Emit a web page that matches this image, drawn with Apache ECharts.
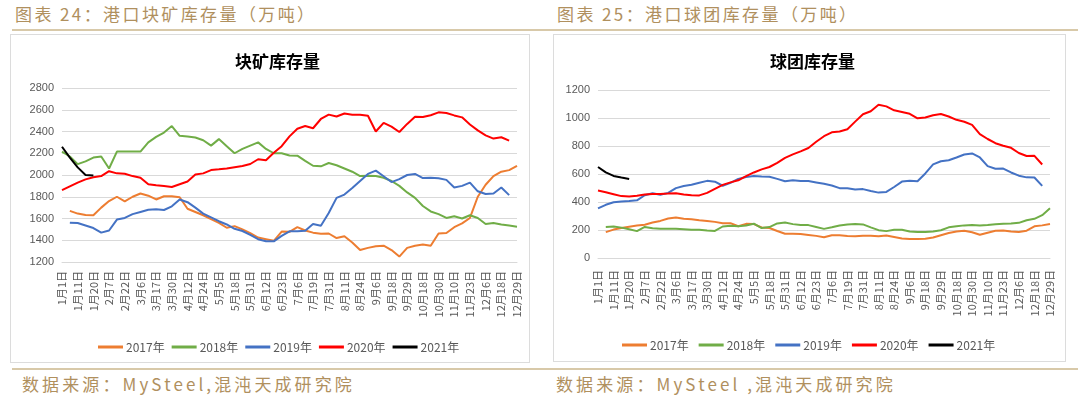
<!DOCTYPE html>
<html><head><meta charset="utf-8">
<script src="https://cdn.jsdelivr.net/npm/echarts@6/dist/echarts.min.js"></script>
<style>
body{margin:0;width:1080px;height:397px;background:#fff;position:relative;overflow:hidden;font-family:"Noto Sans CJK SC",sans-serif}
.t{position:absolute;color:#b0905e;white-space:nowrap;font-size:17px;line-height:20px;letter-spacing:2.4px}
.s{letter-spacing:3.1px}
.hl{position:absolute;height:2px;background:#d8c9a9;left:12px;width:1066px}
.box{position:absolute;border:1px solid #dcdcdc;box-sizing:border-box}
.ch{position:absolute}
</style></head><body>
<div class="t" style="left:15px;top:4px">图表 24：港口块矿库存量（万吨）</div>
<div class="t" style="left:557px;top:4px">图表 25：港口球团库存量（万吨）</div>
<div class="hl" style="top:29px"></div>
<div class="box" style="left:10px;top:34px;width:520px;height:329px"></div>
<div class="box" style="left:553px;top:34px;width:513px;height:328px"></div>
<div class="ch" id="c1" style="left:10px;top:34px;width:520px;height:329px"></div>
<div class="ch" id="c2" style="left:553px;top:34px;width:513px;height:328px"></div>
<div class="hl" style="top:368px"></div>
<div class="t s" style="left:22px;top:374px">数据来源：MySteel,混沌天成研究院</div>
<div class="t s" style="left:556px;top:374px">数据来源：MySteel ,混沌天成研究院</div>
<script>
const categories = ['1月1日','1月5日','1月11日','1月15日','1月20日','1月27日','2月7日','2月14日','2月22日','2月28日','3月6日','3月11日','3月17日','3月23日','3月30日','4月5日','4月12日','4月18日','4月24日','4月29日','5月5日','5月11日','5月18日','5月24日','5月31日','6月6日','6月12日','6月17日','6月23日','6月29日','7月6日','7月12日','7月19日','7月25日','7月31日','8月5日','8月11日','8月17日','8月24日','8月30日','9月6日','9月12日','9月18日','9月23日','9月29日','10月11日','10月18日','10月24日','10月30日','11月4日','11月10日','11月16日','11月23日','11月30日','12月6日','12月12日','12月18日','12月24日','12月29日'];
const seriesNames = ['2017年','2018年','2019年','2020年','2021年'];
const seriesColors = ['#ED7D31','#70AD47','#4472C4','#FF0000','#000000'];

// 块矿库存量 (万吨)
const ore2017 = [null,1670,1645,1632,1630,1700,1760,1800,1758,1800,1830,1810,1775,1805,1805,1795,1690,1660,1630,1595,1560,1515,1530,1500,1465,1425,1410,1395,1480,1478,1520,1490,1470,1460,1462,1420,1436,1380,1310,1330,1345,1350,1310,1250,1330,1350,1360,1350,1462,1466,1520,1555,1605,1800,1910,1990,2030,2045,2085];
const ore2018 = [2215,2170,2100,2125,2160,2170,2060,2215,2215,2215,2215,2300,2350,2390,2450,2360,2355,2345,2320,2270,2330,2265,2200,2240,2270,2300,2240,2200,2200,2180,2178,2130,2085,2080,2110,2090,2060,2030,1990,1994,1990,1975,1945,1900,1840,1790,1715,1665,1640,1605,1620,1600,1630,1605,1550,1558,1545,1535,1525];
const ore2019 = [null,1562,1558,1535,1512,1470,1490,1590,1605,1640,1660,1680,1685,1678,1712,1775,1750,1700,1645,1610,1575,1545,1505,1485,1450,1410,1390,1390,1440,1482,1482,1488,1550,1534,1650,1790,1820,1880,1945,2010,2040,1988,1935,1962,2000,2010,1972,1975,1970,1955,1885,1900,1930,1850,1825,1830,1885,1815,null];
const ore2020 = [1860,1895,1930,1960,1980,1990,2035,2015,2012,1990,1975,1915,1905,1898,1890,1915,1940,2005,2015,2045,2052,2060,2072,2083,2101,2145,2135,2205,2265,2355,2425,2450,2430,2515,2555,2538,2565,2555,2555,2545,2400,2480,2445,2395,2470,2535,2533,2550,2576,2570,2548,2530,2465,2410,2365,2335,2347,2316,null];
const ore2021 = [2260,2160,2070,2000,1995];

// 球团库存量 (万吨)
const pel2017 = [null,185,203,215,224,232,238,253,265,282,290,281,276,269,265,258,249,249,227,244,242,218,214,193,173,173,171,165,158,148,163,162,157,155,159,159,155,160,150,140,136,135,137,146,163,178,190,194,184,166,181,195,197,190,186,195,226,233,243];
const pel2018 = [null,222,225,217,206,192,222,213,209,209,209,206,202,202,197,193,225,230,226,232,245,214,221,247,253,242,236,235,222,208,219,232,240,242,240,219,199,192,202,202,189,185,185,189,198,219,226,233,235,233,236,241,245,246,251,270,280,306,355];
const pel2019 = [355,380,398,404,407,412,448,463,452,465,499,514,523,538,551,545,516,537,565,578,585,582,580,565,548,556,550,550,540,530,518,499,498,489,492,478,467,472,507,546,551,548,604,669,691,698,718,739,747,718,656,637,639,611,588,576,575,515,null];
const pel2020 = [482,470,456,442,440,445,453,458,458,460,463,454,449,447,465,494,522,540,555,585,611,633,650,680,715,740,762,786,830,870,898,903,920,974,1027,1048,1095,1083,1055,1043,1030,998,1003,1020,1029,1011,987,973,951,885,850,820,802,787,750,729,730,668,null];
const pel2021 = [650,612,586,575,565];

const oreAxis = {min:1200, max:2800, interval:200};
const pelAxis = {min:0, max:1200, interval:200};

function makeOption(title, titleLeft, grid, yAx, data, legendPos, legendGap, labelMargin){
  return {
    animation:false,
    title:{text:title, left:titleLeft, top:14, textStyle:{fontFamily:'Noto Sans CJK SC', fontWeight:'bold', fontSize:17, color:'#000'}},
    legend:{left:legendPos[0], top:legendPos[1], icon:'rect', itemWidth:25, itemHeight:3, itemGap:legendGap,
      data:seriesNames, textStyle:{fontFamily:'Liberation Sans Narrow, Noto Sans CJK SC', fontSize:12, color:'#595959', padding:[0,0,0,-2]}},
    grid:grid,
    xAxis:{type:'category', data:categories, boundaryGap:false,
      axisLine:{show:true, lineStyle:{color:'#d9d9d9'}}, axisTick:{show:false},
      axisLabel:{rotate:90, interval:1, fontSize:11, color:'#595959', margin:labelMargin, fontFamily:'Noto Sans CJK SC'}},
    yAxis:{type:'value', min:yAx.min, max:yAx.max, interval:yAx.interval,
      axisLine:{show:false}, axisTick:{show:false},
      axisLabel:{fontSize:11, color:'#595959', margin:8, formatter:v=>String(v)},
      splitLine:{lineStyle:{color:'#d9d9d9', width:1}}},
    series:data.map((d,k)=>({name:seriesNames[k], type:'line', data:d, showSymbol:false, symbol:'none',
      lineStyle:{width:2, color:seriesColors[k]}, itemStyle:{color:seriesColors[k]}, z:2+k}))
  };
}
const c1 = echarts.init(document.getElementById('c1'));
c1.setOption(makeOption('块矿库存量', 220, {left:52,right:13,top:54,bottom:101}, oreAxis,
  [ore2017,ore2018,ore2019,ore2020,ore2021], [83,302], 7, 9));
const c2 = echarts.init(document.getElementById('c2'));
c2.setOption(makeOption('球团库存量', 212, {left:45,right:16,top:56,bottom:104}, pelAxis,
  [pel2017,pel2018,pel2019,pel2020,pel2021], [64,300], 10, 12));
</script>
</body></html>
